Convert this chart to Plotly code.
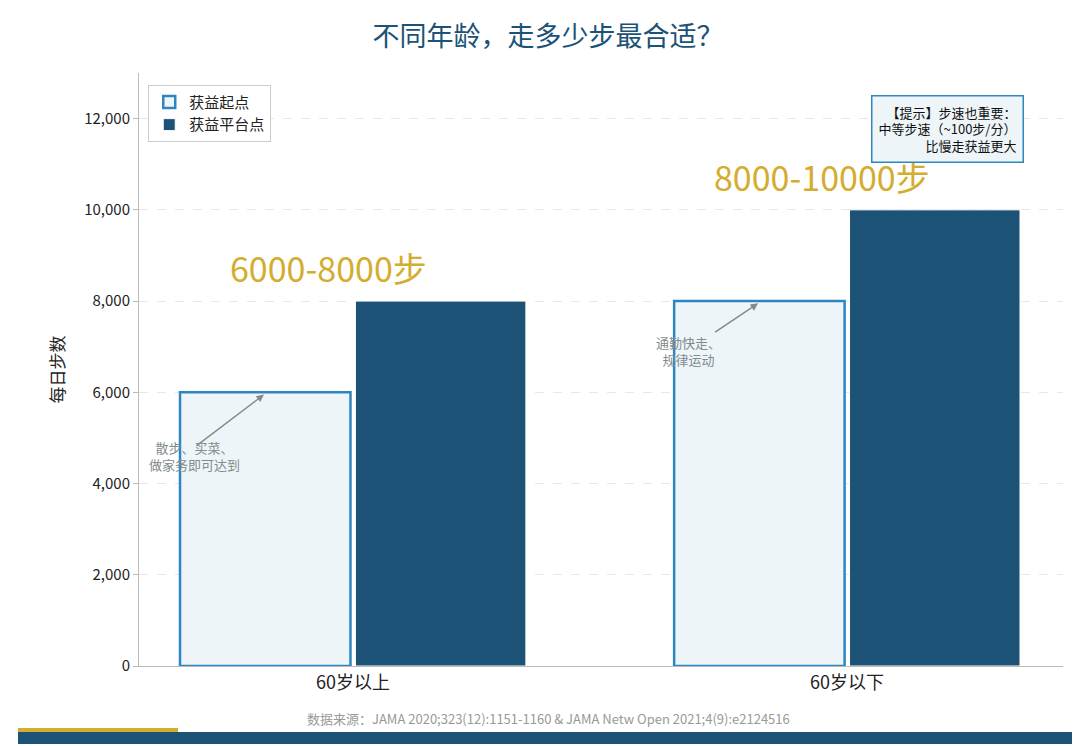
import plotly.graph_objects as go

categories = ["60岁以上", "60岁以下"]
start_steps = [6000, 8000]
plateau_steps = [8000, 10000]
range_labels = ["6000-8000步", "8000-10000步"]

FONT = "Noto Sans CJK SC"
BLUE = "#1b5276"
LIGHT = "#2e86c1"
GOLD = "#d4ac2f"
W, H = 1080, 746
L, R, T, B = 131, 25, 65, 88
PH = H - T - B
PW = W - L - R

def px(x):
    return (x - L) / PW

def py(y):
    return (H - B - y) / PH

xs = list(range(len(categories)))
fig = go.Figure()
fig.add_bar(x=xs, y=start_steps, name="获益起点", width=0.345, offset=-0.35,
            marker=dict(color="#eef5f9", line=dict(color=LIGHT, width=2.5)))
fig.add_bar(x=xs, y=plateau_steps, name="获益平台点", width=0.345, offset=0.005,
            marker=dict(color=BLUE, line=dict(color="white", width=1)))

for i, (v, lab) in enumerate(zip(plateau_steps, range_labels)):
    fig.add_annotation(x=i - 0.05, y=v + 150, text=lab, showarrow=False, yanchor="bottom",
                       font=dict(family=FONT, size=34, color=GOLD))

fig.add_annotation(x=-0.18, y=5950, ax=-0.32, ay=4800, axref="x", ayref="y",
                   text="", showarrow=True, arrowhead=2, arrowwidth=1.5, arrowcolor="#888")
fig.add_annotation(x=-0.32, y=4600, text="散步、买菜、<br>做家务即可达到", showarrow=False,
                   font=dict(family=FONT, size=13, color="#7f8c8d"))
fig.add_annotation(x=0.82, y=7950, ax=0.73, ay=7300, axref="x", ayref="y",
                   text="", showarrow=True, arrowhead=2, arrowwidth=1.5, arrowcolor="#888")
fig.add_annotation(x=0.68, y=6900, text="通勤快走、<br>规律运动", showarrow=False,
                   font=dict(family=FONT, size=13, color="#7f8c8d"))

fig.add_annotation(xref="paper", yref="paper", x=px(1016), y=py(87), xanchor="right", yanchor="top",
                   text="【提示】步速也重要：<br>中等步速（~100步/分）<br>比慢走获益更大",
                   align="right", showarrow=False, bgcolor="#eef5f9", bordercolor=LIGHT,
                   borderwidth=1.5, borderpad=6, font=dict(family=FONT, size=13, color="#111"))

fig.add_annotation(xref="paper", yref="paper", x=px(540), y=py(722), text=
                   "数据来源：JAMA 2020;323(12):1151-1160 & JAMA Netw Open 2021;4(9):e2124516",
                   showarrow=False, font=dict(family=FONT, size=13, color="#999"))
fig.add_shape(type="rect", xref="paper", yref="paper", x0=px(10), x1=px(170), y0=py(724), y1=py(720),
              fillcolor=GOLD, line_width=0)
fig.add_shape(type="rect", xref="paper", yref="paper", x0=px(10), x1=px(1070), y0=py(736), y1=py(724),
              fillcolor=BLUE, line_width=0)

fig.update_layout(
    width=W, height=H, plot_bgcolor="white", paper_bgcolor="white",
    margin=dict(l=L, r=R, t=T, b=B),
    font=dict(family=FONT, size=15, color="#222"),
    title=dict(text="不同年龄，走多少步最合适？", x=0.5, xanchor="center", y=0.975,
               font=dict(size=27, color=BLUE)),
    legend=dict(x=0.01, y=0.98, xanchor="left", yanchor="top", bordercolor="#ccc", borderwidth=1,
                bgcolor="white", font=dict(size=15)),
    xaxis=dict(range=[-0.433, 1.437], tickvals=xs, ticktext=categories, showgrid=False,
               showline=True, linecolor="#bbb", tickfont=dict(size=18), ticks=""),
    yaxis=dict(range=[0, 13000], tickvals=list(range(0, 12001, 2000)), tickformat=",",
               showgrid=True, gridcolor="#e8e8e8", griddash="dash", showline=True,
               linecolor="#bbb", ticks="outside", tickcolor="#bbb", zeroline=False,
               title=dict(text="每日步数", font=dict(size=17))),
)
fig.write_html("out.html")
